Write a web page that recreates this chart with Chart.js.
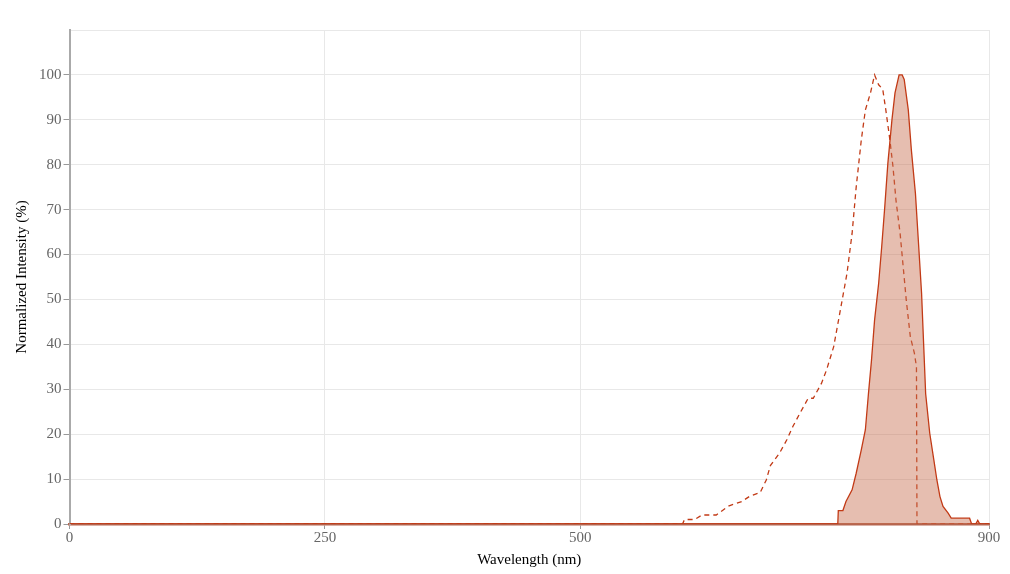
<!DOCTYPE html>
<html>
<head>
<meta charset="utf-8">
<script src="https://cdn.jsdelivr.net/npm/chart.js@4"></script>
<style>
  html, body { margin: 0; padding: 0; background: #fff; }
  #wrap { width: 1010px; height: 574px; }
</style>
</head>
<body>
<div id="wrap"><canvas id="chart"></canvas></div>
<script>
// excitation spectrum (dashed)
const excWl = [0, 600, 602, 612, 619, 633, 645, 658, 666, 676, 682, 686, 695, 702, 708, 715, 723, 728, 736, 741, 748, 754, 761, 766, 770, 775, 779, 784, 788, 792, 796, 799, 803, 806, 809, 813, 816, 819, 823, 827, 829, 829.5, 900];
const excVal = [0, 0, 1, 1, 2, 2, 4, 5, 6.2, 7, 9.8, 13, 15.8, 18.7, 21.7, 24.7, 28, 28, 31.3, 34.3, 39.5, 47, 55.8, 64.7, 75, 85.5, 92.2, 96, 100, 97.8, 96.8, 92.2, 85.5, 79.6, 72, 64.7, 57.3, 49.9, 41.7, 38, 35, 0, 0];
// emission spectrum (solid, filled)
const emWl = [0, 752, 752.5, 757, 760, 766, 770, 775, 779, 782, 785, 788, 792, 795, 798, 801, 805, 808, 812, 815, 817, 821, 824, 828, 831, 834, 836, 838, 842, 846, 849, 852, 855, 860, 863, 881, 883, 887, 889, 891, 900];
const emVal = [0, 0, 3, 3, 5, 7.6, 11.3, 16.5, 21, 29, 36.5, 45.4, 53.6, 61.8, 70.7, 80.3, 90, 96, 100, 100, 99, 92.2, 83.3, 73.6, 62.5, 51.4, 40.2, 29, 20.2, 14.3, 9.8, 6.1, 3.9, 2.4, 1.3, 1.3, 0, 0, 0.8, 0, 0];
const xTicks = [0, 250, 500, 900];
const yTicks = [0, 10, 20, 30, 40, 50, 60, 70, 80, 90, 100, 110];

const lineColor = 'rgb(194, 58, 22)';
const serif = "'Liberation Serif', 'Times New Roman', serif";

const chart = document.getElementById('chart');
new Chart(chart, {
    type: 'line',
    data: {
        datasets: [{
            label: 'Emission',
            data: emWl.map((x, i) => ({ x: x, y: emVal[i] })),
            borderColor: lineColor,
            backgroundColor: 'rgba(200, 110, 80, 0.45)',
            borderWidth: 1.3,
            pointRadius: 0,
            fill: 'origin',
            tension: 0
        }, {
            label: 'Excitation',
            data: excWl.map((x, i) => ({ x: x, y: excVal[i] })),
            borderColor: lineColor,
            borderWidth: 1.3,
            borderDash: [5, 4],
            pointRadius: 0,
            fill: false,
            tension: 0
        }]
    },
    options: {
        responsive: true,
        maintainAspectRatio: false,
        animation: false,
        layout: { padding: { top: 30, right: 21, left: 9, bottom: 0 } },
        plugins: { legend: { display: false }, tooltip: { enabled: false } },
        scales: {
            x: {
                type: 'linear',
                min: 0,
                max: 900,
                afterBuildTicks: (axis) => { axis.ticks = xTicks.map(v => ({ value: v })); },
                ticks: { color: '#666', font: { family: serif, size: 15 }, padding: 0, maxRotation: 0 },
                grid: { color: '#e8e8e8', tickColor: '#999', tickLength: 5 },
                border: { color: 'rgb(181, 101, 79)', width: 2.5 },
                title: { display: true, text: 'Wavelength (nm)', color: '#000', font: { family: serif, size: 15 }, padding: { top: 4, bottom: 5 } }
            },
            y: {
                min: 0,
                max: 110,
                afterBuildTicks: (axis) => { axis.ticks = yTicks.map(v => ({ value: v })); },
                ticks: {
                    color: '#666',
                    font: { family: serif, size: 15 },
                    padding: 2,
                    callback: (v) => v === 110 ? '' : v
                },
                grid: {
                    color: '#e8e8e8',
                    tickLength: 6,
                    tickColor: (ctx) => ctx.tick && ctx.tick.value === 110 ? 'rgba(0,0,0,0)' : '#999'
                },
                border: { color: '#aaa', width: 2 },
                title: { display: true, text: 'Normalized Intensity (%)', color: '#000', font: { family: serif, size: 15 }, padding: { bottom: 6 } }
            }
        }
    }
});
</script>
</body>
</html>
